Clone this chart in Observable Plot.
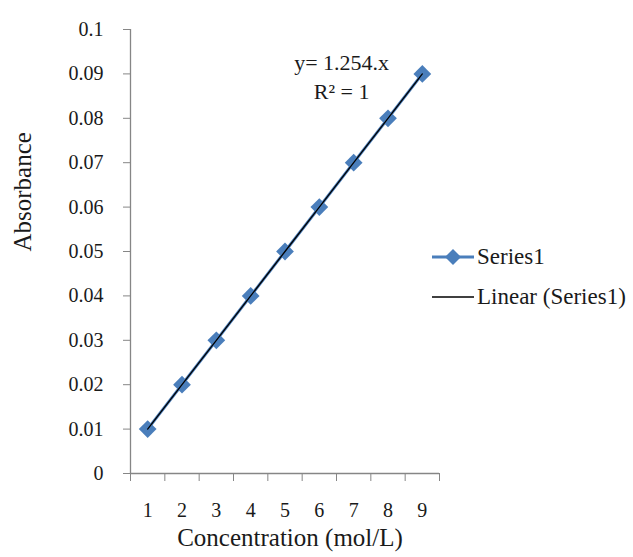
<!DOCTYPE html>
<html>
<head>
<meta charset="utf-8">
<script src="https://cdn.jsdelivr.net/npm/d3@7"></script>
<script src="https://cdn.jsdelivr.net/npm/@observablehq/plot@0.6"></script>
<style>
  html, body { margin: 0; padding: 0; background: #fff; }
  #wrap { position: relative; width: 633px; height: 557px; font-family: "Liberation Serif", "Times New Roman", serif; color: #1a1a1a; }
  #legend { position: absolute; left: 432px; top: 243px; font-size: 23px; white-space: nowrap; }
  .row { display: flex; align-items: center; height: 28px; margin-bottom: 12px; }
  .row svg { margin-right: 3px; }
</style>
</head>
<body>
<div id="wrap">
  <div id="chart"></div>
  <div id="legend">
    <div class="row"><svg width="42" height="18"><line x1="0" y1="9" x2="42" y2="9" stroke="#4a7ebb" stroke-width="3"/><path d="M21,1 L29,9 L21,17 L13,9 Z" fill="#4a7ebb"/></svg><span>Series1</span></div>
    <div class="row"><svg width="42" height="18"><line x1="0" y1="9" x2="42" y2="9" stroke="#000" stroke-width="1.5"/></svg><span>Linear (Series1)</span></div>
  </div>
</div>
<script>
const concentration = [1, 2, 3, 4, 5, 6, 7, 8, 9];
const absorbance = [0.01, 0.02, 0.03, 0.04, 0.05, 0.06, 0.07, 0.08, 0.09];
const yTicks = [0, 0.01, 0.02, 0.03, 0.04, 0.05, 0.06, 0.07, 0.08, 0.09, 0.1];
const xBoundaries = [0.5, 1.5, 2.5, 3.5, 4.5, 5.5, 6.5, 7.5, 8.5, 9.5];
const equationLines = ["y= 1.254.x", "R² = 1"];

const data = concentration.map((c, i) => ({c, a: absorbance[i]}));
const axisColor = "#868686";
const textColor = "#1a1a1a";
const serif = "'Liberation Serif', 'Times New Roman', serif";

const chart = Plot.plot({
  width: 633,
  height: 557,
  marginLeft: 130,
  marginRight: 194,
  marginTop: 29,
  marginBottom: 84,
  style: {fontFamily: serif, fontSize: "20px", color: textColor, background: "#fff"},
  x: {type: "linear", domain: [0.5, 9.5]},
  y: {domain: [0, 0.1]},
  marks: [
    Plot.ruleY([0], {stroke: axisColor, strokeWidth: 1.3}),
    Plot.ruleX([0.5], {stroke: axisColor, strokeWidth: 1.3}),
    Plot.axisY({ticks: yTicks, tickSize: 7, tickPadding: 20, stroke: axisColor, tickFormat: d => String(+d.toFixed(2)), color: textColor, fontSize: 20, fontFamily: serif, label: null}),
    Plot.axisX({ticks: xBoundaries, tickSize: 8, tickFormat: () => "", stroke: axisColor, label: null}),
    Plot.axisX({ticks: concentration, tickSize: 0, tickPadding: 29, tickFormat: d => String(d), label: null, fontSize: 20, fontFamily: serif, color: textColor}),
    Plot.text(["Concentration (mol/L)"], {frameAnchor: "bottom", dx: 5, dy: 72, fontSize: 25, fontFamily: serif, fill: textColor}),
    Plot.text(["Absorbance"], {frameAnchor: "left", dx: -108, dy: 0, rotate: -90, fontSize: 25, fontFamily: serif, fill: textColor}),
    Plot.line(data, {x: "c", y: "a", stroke: "#4a7ebb", strokeWidth: 3}),
    Plot.dot(data, {x: "c", y: "a", symbol: "diamond2", r: 8, fill: "#4a7ebb", stroke: "none"}),
    Plot.line(data, {x: "c", y: "a", stroke: "#000", strokeWidth: 1.3}),
    Plot.text([equationLines.join("\n")], {x: 6.65, y: 0.0897, fontSize: 22, fontFamily: serif, fill: textColor, lineHeight: 1.3, textAnchor: "middle"})
  ]
});
document.getElementById("chart").appendChild(chart);
</script>
</body>
</html>
